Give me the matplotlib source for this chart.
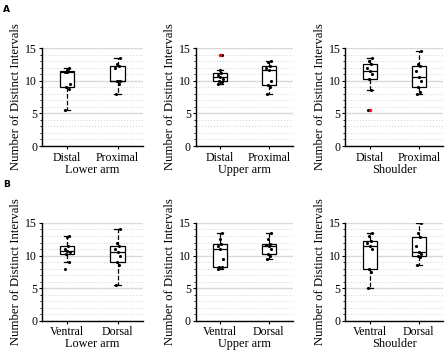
import numpy as np
import matplotlib
matplotlib.use("Agg")
import matplotlib.pyplot as plt
from matplotlib.ticker import MultipleLocator

plt.rcParams['font.family'] = ['Liberation Serif', 'DejaVu Serif']

# row A: distal vs proximal, row B: ventral vs dorsal
regions = ['Lower arm', 'Upper arm', 'Shoulder']
labels_a = ['Distal', 'Proximal']
labels_b = ['Ventral', 'Dorsal']

lower_distal = [5.5, 8.8, 9.0, 9.5, 11.3, 11.4, 11.5, 11.6, 12.0]
lower_proximal = [8.0, 9.5, 10.0, 10.0, 10.0, 12.0, 12.2, 12.5, 13.5]
upper_distal = [9.5, 9.8, 10.0, 10.3, 10.5, 10.8, 11.2, 11.6, 14.0]
upper_proximal = [8.0, 9.0, 9.3, 10.0, 11.7, 12.0, 12.3, 12.8, 13.0]
shoulder_distal = [5.5, 8.5, 10.3, 11.0, 11.5, 12.0, 12.5, 13.0, 13.5]
shoulder_proximal = [8.0, 8.3, 9.0, 10.0, 10.5, 11.5, 12.2, 12.5, 14.5]

lower_ventral = [8.0, 9.0, 10.3, 10.5, 10.7, 11.0, 11.5, 12.8, 13.0]
lower_dorsal = [5.5, 8.5, 9.0, 10.0, 10.5, 11.0, 11.4, 12.0, 14.0]
upper_ventral = [8.0, 8.2, 8.3, 9.5, 11.0, 11.5, 11.8, 12.5, 13.5]
upper_dorsal = [9.5, 10.0, 10.2, 11.0, 11.5, 11.6, 11.8, 12.5, 13.5]
shoulder_ventral = [5.0, 7.5, 8.0, 11.0, 11.5, 12.0, 12.3, 13.0, 13.5]
shoulder_dorsal = [8.5, 9.8, 10.0, 10.2, 10.5, 11.5, 12.8, 13.5, 15.0]

row_a = [(lower_distal, lower_proximal), (upper_distal, upper_proximal),
         (shoulder_distal, shoulder_proximal)]
row_b = [(lower_ventral, lower_dorsal), (upper_ventral, upper_dorsal),
         (shoulder_ventral, shoulder_dorsal)]

fig = plt.figure(figsize=(4.46, 3.57), dpi=100)

lefts = [0.094, 0.439, 0.774]
widths = [0.226, 0.218, 0.220]
bottoms = [0.591, 0.101]
height = 0.2745

jitter = np.array([-0.04, 0.03, -0.02, 0.05, 0.0, -0.05, 0.02, -0.01, 0.04])


def draw_panel(ax, groups, ticklabels, region, flier_color):
    ax.set_axisbelow(True)
    ax.yaxis.set_major_locator(MultipleLocator(5))
    ax.yaxis.set_minor_locator(MultipleLocator(1))
    ax.grid(axis='y', which='major', color='#d9d9d9', lw=1.0)
    ax.grid(axis='y', which='minor', color='#d0d0d0', lw=0.7, ls=(0, (1, 2)))

    pos = [1, 2]
    flierprops = dict(marker='o', markersize=2.2, markerfacecolor=flier_color,
                      markeredgecolor=flier_color, markeredgewidth=0.3) if flier_color else dict(marker='')
    bp = ax.boxplot([list(g) for g in groups], positions=pos, widths=0.28,
                    capwidths=0.12, patch_artist=True,
                    boxprops=dict(facecolor='white', edgecolor='black', lw=0.9),
                    medianprops=dict(color='black', lw=0.9),
                    whiskerprops=dict(color='black', lw=0.9, ls='--'),
                    capprops=dict(color='black', lw=0.9),
                    flierprops=flierprops, zorder=2)
    for f in bp['fliers']:
        f.set_zorder(5)
    # points on top of the box
    for p, g in zip(pos, groups):
        g = np.asarray(g)
        ax.scatter(p + jitter[:len(g)], g, s=5, color='black', zorder=4, lw=0)

    ax.set_xlim(0.5, 2.5)
    ax.set_ylim(0, 15)
    ax.set_xticks(pos)
    ax.set_xticklabels(ticklabels, fontsize=8.5)
    ax.set_xlabel(region, fontsize=8.8, labelpad=0)
    ax.set_ylabel('Number of Distinct Intervals', fontsize=9.2, labelpad=2)
    ax.tick_params(axis='y', labelsize=8.5, length=2.5, width=0.8, pad=1)
    ax.tick_params(axis='y', which='minor', length=1.5, width=0.6)
    ax.tick_params(axis='x', length=2, width=0.8, pad=2)
    for s in ['top', 'right']:
        ax.spines[s].set_visible(False)
    for s in ['left', 'bottom']:
        ax.spines[s].set_linewidth(1.0)


for i in range(3):
    ax = fig.add_axes([lefts[i], bottoms[0], widths[i], height])
    draw_panel(ax, row_a[i], labels_a, regions[i], 'red')
    ax = fig.add_axes([lefts[i], bottoms[1], widths[i], height])
    draw_panel(ax, row_b[i], labels_b, regions[i], None)

fig.text(0.007, 0.985, 'A', fontsize=6.5, fontweight='bold', family='DejaVu Sans', va='top')
fig.text(0.007, 0.497, 'B', fontsize=6.5, fontweight='bold', family='DejaVu Sans', va='top')

fig.savefig('out.png', dpi=100)
